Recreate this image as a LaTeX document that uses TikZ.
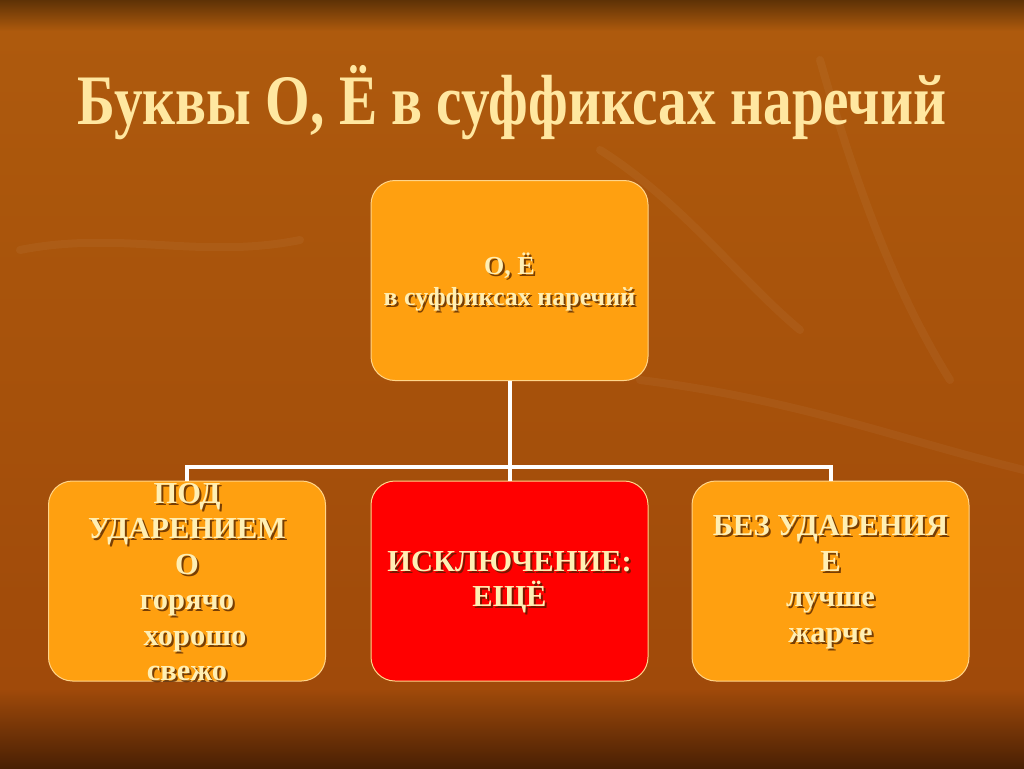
\documentclass[tikz,border=0pt]{standalone}
\usepackage{fontspec}
\setmainfont{Liberation Serif}
\definecolor{bgmid}{HTML}{AE5A0D}
\definecolor{bglow}{HTML}{A04A0A}
\definecolor{bgtop}{HTML}{5E3206}
\definecolor{bgbot}{HTML}{4A2004}
\definecolor{boxor}{HTML}{FFA010}
\definecolor{boxred}{HTML}{FF0000}
\definecolor{edge}{HTML}{FFD58A}
\definecolor{cream}{HTML}{FFEFB4}
\definecolor{gold}{HTML}{FFE7A0}
\definecolor{shadowc}{HTML}{4A1E00}
\begin{document}
\begin{tikzpicture}[x=1pt,y=-1pt,
  box/.style={rounded corners=24pt, draw=edge, line width=1pt, minimum width=277pt, minimum height=200pt, inner sep=0pt},
  conn/.style={draw=white, line width=4pt},
  btext/.style={text=cream, font=\bfseries\fontsize{30.5}{35.5}\selectfont, align=center, inner sep=0pt},
  ttext/.style={text=cream, font=\bfseries\fontsize{26}{31}\selectfont, align=center, inner sep=0pt},
  shad/.style={text=shadowc, opacity=0.75},
  leaf/.style={draw=white, opacity=0.045, line width=8pt, line cap=round}]
\useasboundingbox (0,0) rectangle (1024,768);
% background
\shade[top color=bgmid, bottom color=bglow] (0,30) rectangle (1024,690);
\shade[top color=bgtop, bottom color=bgmid] (0,0) rectangle (1024,31);
\shade[top color=bglow, bottom color=bgbot] (0,689) rectangle (1024,768);
% faint background branches
\draw[leaf] (640,380) .. controls (800,400) and (900,440) .. (1024,470);
\draw[leaf] (820,60) .. controls (860,200) and (900,300) .. (950,380);
\draw[leaf] (20,250) .. controls (120,230) and (200,260) .. (300,240);
\draw[leaf] (600,150) .. controls (680,200) and (740,280) .. (800,330);
% title
\node[text=gold, anchor=base, font=\bfseries\fontsize{71}{78}\selectfont, inner sep=0pt] (title) at (512,124) {\scalebox{0.807}[1]{Буквы О, Ё в суффиксах наречий}};
% boxes
\node[box, fill=boxor] (top) at (509.5,280.5) {};
\node[box, fill=boxor] (left) at (187,581) {};
\node[box, fill=boxred] (mid) at (509.5,581) {};
\node[box, fill=boxor] (right) at (830.5,581) {};
% connectors
\coordinate (bus) at (0,467);
\draw[conn] (top.south) -- (mid.north);
\draw[conn] (left.north) -- (left.north |- bus) -- (right.north |- bus) -- (right.north);
% texts
\node[ttext, shad] (tops) at (511.5,284) {О, Ё\\в суффиксах наречий};
\node[ttext] (topt) at (509.5,282) {О, Ё\\в суффиксах наречий};
\node[btext, shad] (lefts) at (189,584) {ПОД\\УДАРЕНИЕМ\\О\\горячо\\\hspace*{16pt}хорошо\\свежо};
\node[btext] (leftt) at (187,582) {ПОД\\УДАРЕНИЕМ\\О\\горячо\\\hspace*{16pt}хорошо\\свежо};
\node[btext, shad] (mids) at (511.5,584) {ИСКЛЮЧЕНИЕ:\\ЕЩЁ};
\node[btext] (midt) at (509.5,582) {ИСКЛЮЧЕНИЕ:\\ЕЩЁ};
\node[btext, shad] (rights) at (832.5,584) {БЕЗ УДАРЕНИЯ\\Е\\лучше\\жарче};
\node[btext] (rightt) at (830.5,582) {БЕЗ УДАРЕНИЯ\\Е\\лучше\\жарче};
\end{tikzpicture}
\end{document}
